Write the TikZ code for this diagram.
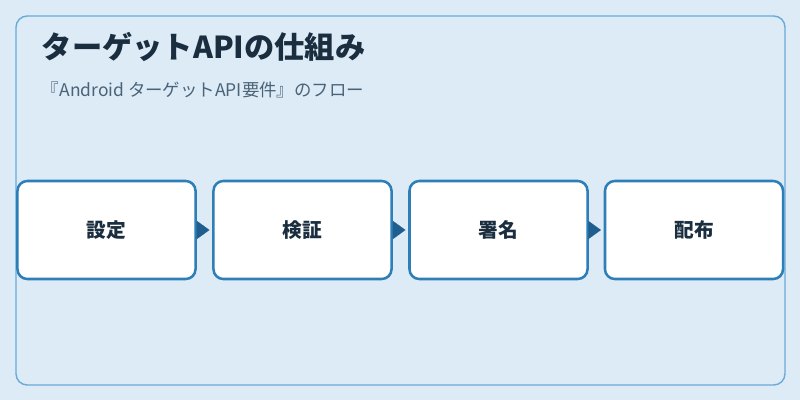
\documentclass[tikz,border=0pt]{standalone}
\usepackage{fontspec}
\setmainfont{Noto Sans CJK JP}
\usetikzlibrary{positioning,arrows.meta}
\definecolor{bgblue}{HTML}{DDEBF6}
\definecolor{edgeblue}{HTML}{6AAAD8}
\definecolor{boxblue}{HTML}{2E7FB8}
\definecolor{tipblue}{HTML}{1F5F8F}
\definecolor{titlec}{HTML}{1A2E3F}
\definecolor{subc}{HTML}{4A6378}
\begin{document}
\begin{tikzpicture}[
  x=0.025cm, y=-0.025cm,
  stage/.style={draw=boxblue, line width=1.8pt, fill=white, rounded corners=7pt,
    minimum width=4.45cm, minimum height=2.45cm, font=\fontsize{14}{16}\selectfont\bfseries, text=titlec},
  flow/.style={draw=tipblue, line width=0.01pt, shorten >=2pt,
    -{Triangle[length=9pt,width=13pt,fill=tipblue]}}
]
\fill[bgblue] (0,0) rectangle (800,400);
\draw[edgeblue, line width=1pt, rounded corners=8pt] (16,16) rectangle (785,385);
\node[anchor=west, text=titlec, font=\fontsize{21.5}{26}\selectfont\bfseries] (title) at (37,47) {ターゲットAPIの仕組み};
\node[anchor=west, text=subc, font=\fontsize{12.4}{15}\selectfont] (sub) at (37,90) {『Android ターゲットAPI要件』のフロー};
% stages
\node[stage] (s1) at (106.5,230) {設定};
\node[stage] (s2) at (302.5,230) {検証};
\node[stage] (s3) at (498.5,230) {署名};
\node[stage] (s4) at (694,230) {配布};
\draw[flow] (s1) -- (s2);
\draw[flow] (s2) -- (s3);
\draw[flow] (s3) -- (s4);
\end{tikzpicture}
\end{document}
